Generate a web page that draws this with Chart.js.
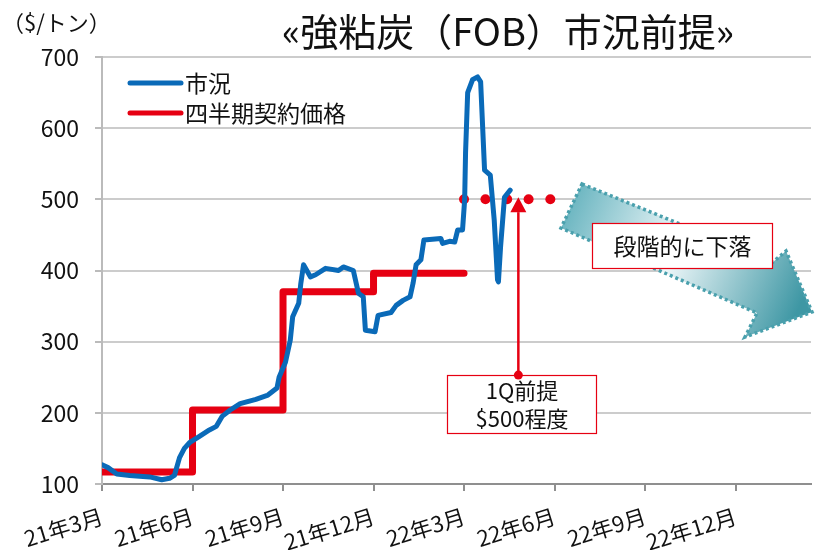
<!DOCTYPE html>
<html>
<head>
<meta charset="utf-8">
<script src="https://cdn.jsdelivr.net/npm/chart.js@4.4.1/dist/chart.umd.min.js"></script>
<style>
body{margin:0;background:#fff;}
#wrap{width:816px;height:550px;}
</style>
</head>
<body>
<div id="wrap"><canvas id="chartCoal" width="816" height="550"></canvas></div>
<script>
const FONT = '"Noto Sans CJK JP", "Noto Sans", sans-serif';

// x is months since 21年3月
const tickLabels = ['21年3月','21年6月','21年9月','21年12月','22年3月','22年6月','22年9月','22年12月'];

const marketMonths = [0.00,0.20,0.49,0.92,1.25,1.58,1.98,2.24,2.40,2.57,2.73,2.90,3.23,3.56,3.79,3.98,4.25,4.58,5.10,5.50,5.80,5.87,6.08,6.24,6.32,6.52,6.59,6.68,6.91,7.08,7.41,7.84,8.00,8.33,8.50,8.66,8.73,9.05,9.15,9.58,9.75,9.98,10.21,10.31,10.41,10.57,10.67,11.23,11.29,11.52,11.69,11.79,11.95,12.02,12.05,12.12,12.28,12.45,12.55,12.68,12.87,13.00,13.11,13.14,13.21,13.34,13.53];
const marketPrices = [127,123,114,112,111,110,106,108,112,137,150,158,167,176,181,195,204,213,219,225,235,250,271,302,335,354,382,408,391,394,403,400,405,400,368,363,316,314,337,341,351,358,363,382,408,415,443,445,438,441,440,457,457,499,565,650,668,672,665,541,534,471,387,384,433,503,513];

const contractMonths = [0,3,6,9,12];
const contractPrices = [117,204,370,396,396];

const premiseMonths = [12.0,12.71,13.43,14.14,14.86];
const premisePrices = [500,500,500,500,500];

const BLUE = '#0a6ab8';
const RED = '#e60012';

function pts(xs, ys){
    return xs.map((x,i)=>({x:x, y:ys[i]}));
}

const overlay = {
    id:'overlay',
    afterDatasetsDraw(chart){
        const ctx = chart.ctx;
        const xs = chart.scales.x, ys = chart.scales.y;

        // teal arrow
        ctx.save();
        const poly = [[582,184],[773,262],[786,251],[812,312],[745,337],[757,313],[561,228]];
        const g = ctx.createLinearGradient(570,205,800,305);
        g.addColorStop(0,'#6cb6c1');
        g.addColorStop(0.45,'#eef7f9');
        g.addColorStop(1,'#3e97a4');
        ctx.beginPath();
        poly.forEach((p,i)=> i ? ctx.lineTo(p[0],p[1]) : ctx.moveTo(p[0],p[1]));
        ctx.closePath();
        ctx.fillStyle = g;
        ctx.fill();
        ctx.setLineDash([3,3]);
        ctx.lineWidth = 3.5;
        ctx.strokeStyle = '#4aa0ad';
        ctx.stroke();
        ctx.restore();

        // red arrow
        const ax = xs.getPixelForValue(13.8);
        const yBot = ys.getPixelForValue(253);
        const yTip = ys.getPixelForValue(503);
        const yBase = ys.getPixelForValue(482);
        ctx.save();
        ctx.strokeStyle = RED;
        ctx.fillStyle = RED;
        ctx.lineWidth = 2.5;
        ctx.beginPath();
        ctx.moveTo(ax,yBot);
        ctx.lineTo(ax,yBase);
        ctx.stroke();
        ctx.beginPath();
        ctx.moveTo(ax,yTip);
        ctx.lineTo(ax+8,yBase);
        ctx.lineTo(ax-8,yBase);
        ctx.closePath();
        ctx.fill();
        ctx.restore();

        // boxes
        function box(x,y,w,h,lines,size,lh){
            ctx.save();
            ctx.fillStyle = '#fff';
            ctx.fillRect(x,y,w,h);
            ctx.strokeStyle = RED;
            ctx.lineWidth = 1.2;
            ctx.strokeRect(x+0.5,y+0.5,w-1,h-1);
            ctx.fillStyle = '#111';
            ctx.font = size+'px '+FONT;
            ctx.textAlign = 'center';
            ctx.textBaseline = 'middle';
            const cy = y + h/2 - (lines.length-1)*lh/2;
            lines.forEach((t,i)=>ctx.fillText(t, x+w/2, cy+i*lh));
            ctx.restore();
        }
        box(447,375,150,59,['1Q前提','$500程度'],22,28);
        box(592,223,181,46,['段階的に下落'],23,0);

        ctx.save();
        ctx.fillStyle = RED;
        ctx.beginPath();
        ctx.arc(ax,yBot,4.5,0,Math.PI*2);
        ctx.fill();
        ctx.restore();

        // legend
        ctx.save();
        ctx.lineCap = 'round';
        ctx.lineWidth = 5;
        [[BLUE,'市況',83],[RED,'四半期契約価格',113]].forEach(function(it){
            ctx.strokeStyle = it[0];
            ctx.beginPath();
            ctx.moveTo(130,it[2]);
            ctx.lineTo(181,it[2]);
            ctx.stroke();
            ctx.fillStyle = '#111';
            ctx.font = '23px '+FONT;
            ctx.textBaseline = 'middle';
            ctx.fillText(it[1],185,it[2]);
        });
        ctx.restore();

        // title + unit
        ctx.save();
        ctx.fillStyle = '#111';
        ctx.textBaseline = 'middle';
        ctx.textAlign = 'center';
        ctx.font = '38px '+FONT;
        ctx.fillText('«強粘炭（FOB）市況前提»',508,32);
        ctx.textAlign = 'left';
        ctx.font = '22px '+FONT;
        ctx.fillText('（$/トン）',2,23);
        ctx.restore();
    }
};

new Chart(document.getElementById('chartCoal').getContext('2d'),{
    type:'line',
    data:{
        datasets:[{
            label:'市況',
            data: pts(marketMonths, marketPrices),
            borderColor: BLUE,
            borderWidth: 5,
            pointRadius: 0,
            borderCapStyle:'round',
            borderJoinStyle:'round',
            tension: 0
        },{
            label:'四半期契約価格',
            data: pts(contractMonths, contractPrices),
            borderColor: RED,
            borderWidth: 7,
            pointRadius: 0,
            stepped:'before',
            borderCapStyle:'round',
            borderJoinStyle:'round'
        },{
            label:'前提',
            data: pts(premiseMonths, premisePrices),
            showLine:false,
            pointRadius: 5,
            pointBorderWidth: 0,
            pointBackgroundColor: RED,
            borderColor: RED
        }]
    },
    options:{
        responsive:false,
        animation:false,
        layout:{padding:{top:57,right:1,left:0,bottom:0}},
        plugins:{
            legend:{display:false},
            tooltip:{enabled:false}
        },
        scales:{
            x:{
                type:'linear',
                min:0,
                max:23.5,
                afterFit: s => { s.height = 66; },
                grid:{drawOnChartArea:false, drawTicks:true, tickLength:7, tickColor:'#8f8f8f', lineWidth:2},
                border:{color:'#8f8f8f', width:2},
                ticks:{
                    stepSize:3,
                    includeBounds:false,
                    minRotation:17,
                    maxRotation:17,
                    autoSkip:false,
                    padding:12,
                    color:'#111',
                    font:{family:FONT, size:22},
                    callback: v => tickLabels[v/3]
                }
            },
            y:{
                min:100,
                max:700,
                afterFit: s => { s.width = 102; },
                grid:{color:'#cccccc', lineWidth:2, tickLength:7, tickColor:'#bbbbbb'},
                border:{color:'#bbbbbb', width:2},
                ticks:{
                    stepSize:100,
                    padding:16,
                    color:'#111',
                    font:{family:FONT, size:23}
                }
            }
        }
    },
    plugins:[overlay]
});
</script>
</body>
</html>
